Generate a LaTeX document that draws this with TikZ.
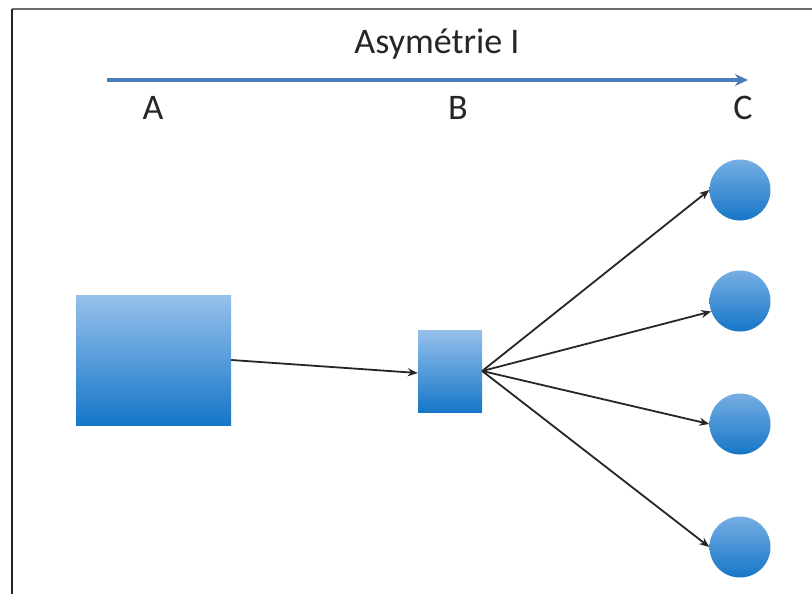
\documentclass[tikz,border=0pt]{standalone}
\usepackage{fontspec}
\setmainfont{Carlito}
\usetikzlibrary{arrows.meta}
\definecolor{axisblue}{RGB}{74,126,187}
\definecolor{boxtop}{RGB}{150,193,235}
\definecolor{boxbot}{RGB}{22,118,200}
\definecolor{frame}{RGB}{110,110,110}
\tikzset{
  sq/.style={draw=none,rectangle,inner sep=0pt,top color=boxtop,bottom color=boxbot},
  ball/.style={draw=none,circle,inner sep=0pt,minimum size=61pt,top color=boxtop!75!boxbot,bottom color=boxbot},
  lbl/.style={font=\fontsize{36}{36}\selectfont,text=black!85,anchor=base,inner sep=0pt},
  link/.style={draw=black!85,line width=1.8pt,-{Stealth[length=10pt,width=8pt]}},
}
\begin{document}
\begin{tikzpicture}[x=1pt,y=-1pt]
\useasboundingbox (0,0) rectangle (812,594);
\fill[white] (0,0) rectangle (812,594);
% frame
\draw[frame,line width=2pt] (12,9) -- (812,9);
\draw[black!85,line width=2pt] (12,9) -- (12,594);
% axis
\node[lbl] (title) at (437,54) {Asymétrie I};
\coordinate (axs) at (107,80);
\coordinate (axe) at (748,80);
\draw[axisblue,line width=3.5pt,-{Stealth[length=13pt,width=12pt]}] (axs) -- (axe);
\node[lbl] (A) at (153,120) {A};
\node[lbl] (B) at (458,120) {B};
\node[lbl] (C) at (743,120) {C};
% shapes
\node[sq,minimum width=155pt,minimum height=130pt] (big) at (153.5,360) {};
\node[sq,minimum width=64pt,minimum height=82pt] (small) at (450,371) {};
\node[ball] (c1) at (740,190) {};
\node[ball] (c2) at (740,301) {};
\node[ball] (c3) at (740,424) {};
\node[ball] (c4) at (740,547) {};
% connectors
\draw[link] (big.east) -- ([yshift=-2pt]small.west);
\draw[link] (small.east) -- (c1.west);
\draw[link] (small.east) -- (c2.200);
\draw[link] (small.east) -- (c3.west);
\draw[link] (small.east) -- (c4.west);
\end{tikzpicture}
\end{document}
